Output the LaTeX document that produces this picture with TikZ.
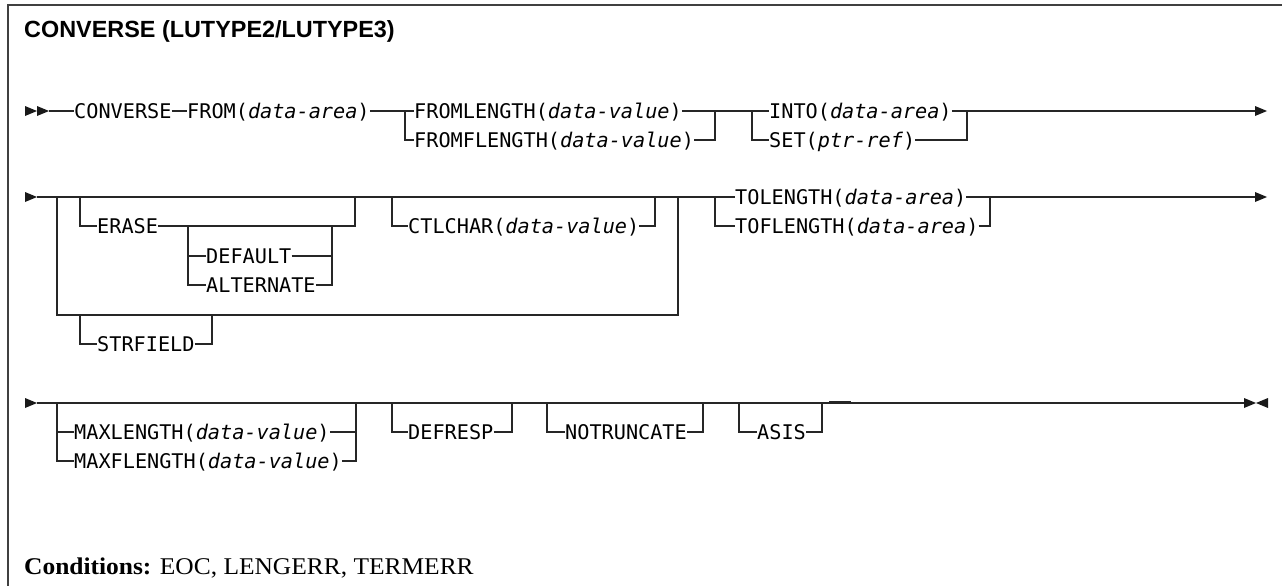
\documentclass[tikz,border=0pt]{standalone}
\usepackage{fontspec}
\usepackage{tikz}
\usetikzlibrary{positioning}
\setmainfont{Liberation Serif}
\newfontfamily\monofam{DejaVu Sans Mono}
\newfontfamily\headfam{Liberation Sans}
\newfontfamily\condfam[FakeStretch=1.06]{Liberation Serif}
\tikzset{
    kw/.style={
        inner sep=0pt,
        anchor=west,
        text height=14.6pt,
        text depth=0pt,
        font={\monofam\fontsize{20.2}{23}\selectfont}
    },
    rail/.style={
        draw=black!85,
        line width=1.4pt
    },
    frame/.style={
        draw=black!75,
        line width=1.6pt
    }
}

\begin{document}
\begin{tikzpicture}[x=1pt, y=-1pt]
    \useasboundingbox (0,0) rectangle (1282,586);
    \draw[frame] (8,586) -- (8,5) -- (1282,5);

    \node[anchor=west, inner sep=0pt, font={\headfam\bfseries\fontsize{23.4}{26}\selectfont}] (title) at (24,31) {CONVERSE (LUTYPE2/LUTYPE3)};

    % row 1
    \coordinate (s1) at (49,111);
    \coordinate (a1) at (405,111);
    \coordinate (a2) at (715,111);
    \coordinate (b1) at (752,111);
    \coordinate (b2) at (967,111);
    \coordinate (e1) at (1256,111);
    \node[kw] (conv) at (74,111) {CONVERSE};
    \node[kw] (from) at (187,111) {FROM(\textit{data-area})};
    \node[kw] (fl) at (414,111) {FROMLENGTH(\textit{data-value})};
    \node[kw] (ffl) at (414,140) {FROMFLENGTH(\textit{data-value})};
    \node[kw] (into) at (769,111) {INTO(\textit{data-area})};
    \node[kw] (set) at (769,140) {SET(\textit{ptr-ref})};

    \draw[rail] (s1) -- (conv.west);
    \draw[rail] (conv.east) -- (from.west);
    \draw[rail] (from.east) -- (fl.west);
    \draw[rail] (fl.east) -- (into.west);
    \draw[rail] (into.east) -- (e1);
    \draw[rail] (a1) |- (ffl.west);
    \draw[rail] (ffl.east) -| (a2);
    \draw[rail] (b1) |- (set.west);
    \draw[rail] (set.east) -| (b2);

    % row 2
    \coordinate (s2) at (37,197);
    \coordinate (c1) at (57,197);
    \coordinate (c2) at (678,197);
    \coordinate (d1) at (80,197);
    \coordinate (d2) at (355,197);
    \coordinate (f1) at (392,197);
    \coordinate (f2) at (655,197);
    \coordinate (h1) at (715,197);
    \coordinate (h2) at (990,197);
    \coordinate (e2) at (1256,197);
    \coordinate (de1) at (188,226);
    \coordinate (de2) at (332,226);
    \coordinate (g0) at (57,315);
    \coordinate (g1) at (80,315);
    \coordinate (g2) at (212,315);
    \coordinate (g3) at (678,315);
    \node[kw] (erase) at (97,226) {ERASE};
    \node[kw] (dflt) at (206,256) {DEFAULT};
    \node[kw] (alt) at (206,285) {ALTERNATE};
    \node[kw] (ctl) at (408,226) {CTLCHAR(\textit{data-value})};
    \node[kw] (strf) at (97,344) {STRFIELD};
    \node[kw] (tol) at (735,197) {TOLENGTH(\textit{data-area})};
    \node[kw] (tofl) at (735,226) {TOFLENGTH(\textit{data-area})};

    \draw[rail] (s2) -- (tol.west);
    \draw[rail] (tol.east) -- (e2);
    \draw[rail] (d1) |- (erase.west);
    \draw[rail] (erase.east) -- (de1) -- (de2) -| (d2);
    \draw[rail] (de1) |- (dflt.west);
    \draw[rail] (dflt.east) -| (de2);
    \draw[rail] (de1) |- (alt.west);
    \draw[rail] (alt.east) -| (de2);
    \draw[rail] (f1) |- (ctl.west);
    \draw[rail] (ctl.east) -| (f2);
    \draw[rail] (c1) -- (g0) -- (g3) -- (c2);
    \draw[rail] (g1) |- (strf.west);
    \draw[rail] (strf.east) -| (g2);
    \draw[rail] (h1) |- (tofl.west);
    \draw[rail] (tofl.east) -| (h2);

    % row 3
    \coordinate (s3) at (37,403);
    \coordinate (i1) at (57,403);
    \coordinate (i2) at (356,403);
    \coordinate (j1) at (392,403);
    \coordinate (j2) at (512,403);
    \coordinate (k1) at (547,403);
    \coordinate (k2) at (703,403);
    \coordinate (l1) at (739,403);
    \coordinate (l2) at (822,403);
    \coordinate (l3) at (829,402);
    \coordinate (l4) at (851,402);
    \coordinate (e3) at (1245,403);
    \node[kw] (maxl) at (74,432) {MAXLENGTH(\textit{data-value})};
    \node[kw] (maxfl) at (74,461) {MAXFLENGTH(\textit{data-value})};
    \node[kw] (defr) at (408,432) {DEFRESP};
    \node[kw] (notr) at (565,432) {NOTRUNCATE};
    \node[kw] (asis) at (757,432) {ASIS};

    \draw[rail] (s3) -- (e3);
    \draw[rail, line width=2pt] (l3) -- (l4);
    \draw[rail] (i1) |- (maxl.west);
    \draw[rail] (maxl.east) -| (i2);
    \draw[rail] (i1) |- (maxfl.west);
    \draw[rail] (maxfl.east) -| (i2);
    \draw[rail] (j1) |- (defr.west);
    \draw[rail] (defr.east) -| (j2);
    \draw[rail] (k1) |- (notr.west);
    \draw[rail] (notr.east) -| (k2);
    \draw[rail] (l1) |- (asis.west);
    \draw[rail] (asis.east) -| (l2);

    % arrow heads
    \foreach \x/\y in {25/111, 37/111, 1255/111, 25/197, 1255/197, 25/403, 1244/403}
        \fill[black!90] ({\x},{\y-5}) -- ({\x+12},{\y}) -- ({\x},{\y+5}) -- cycle;
    \fill[black!90] (1268,398) -- (1256,403) -- (1268,408) -- cycle;

    \node[anchor=west, inner sep=0pt, font={\condfam\fontsize{24}{27}\selectfont}] (cond) at (24,568) {\textbf{Conditions:} EOC, LENGERR, TERMERR};
\end{tikzpicture}
\end{document}
